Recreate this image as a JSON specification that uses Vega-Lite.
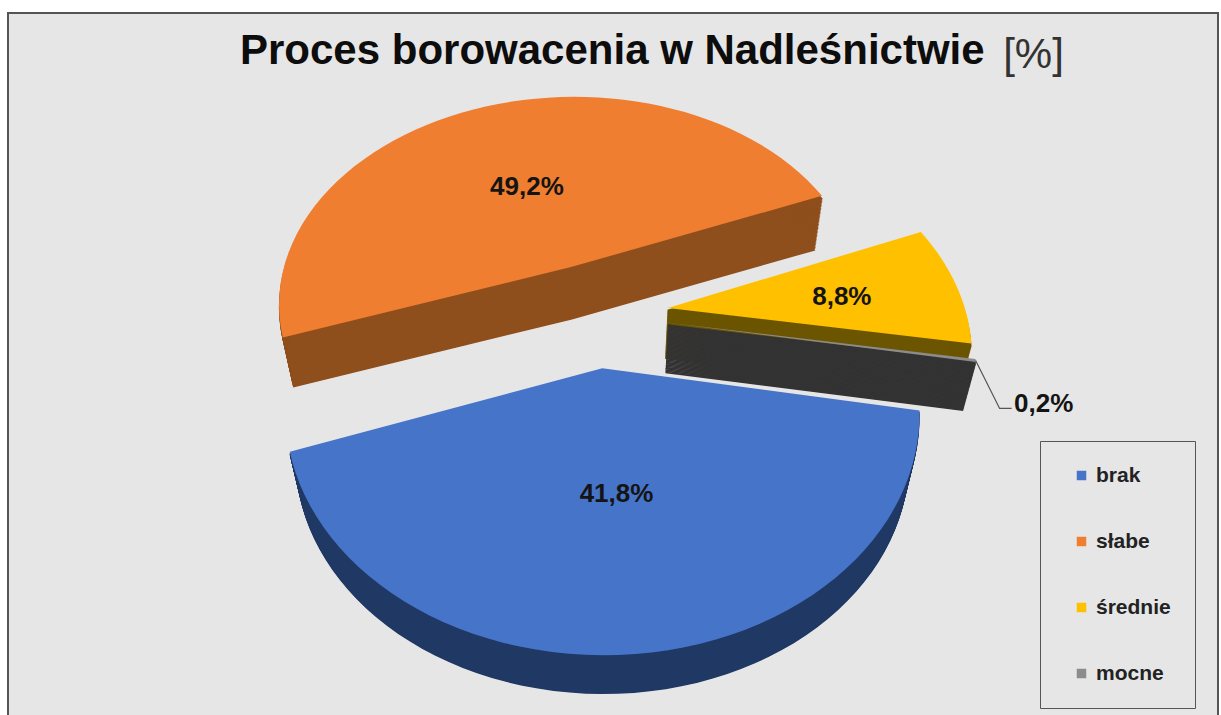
{
  "$schema": "https://vega.github.io/schema/vega-lite/v6.json",
  "autosize": {"type": "none"},
  "width": 1210,
  "height": 703,
  "padding": {"left": 8, "top": 13, "right": 3, "bottom": 0},
  "background": "#ffffff",
  "view": {"fill": "#e7e6e6", "stroke": "#555555", "strokeWidth": 2},
  "title": {
    "text": "Proces borowacenia w Nadleśnictwie",
    "anchor": "start",
    "frame": "group",
    "font": "Liberation Sans",
    "fontWeight": "bold",
    "fontSize": 42,
    "color": "#0d0d0d",
    "baseline": "alphabetic",
    "offset": 0,
    "dx": 232,
    "dy": 93
  },
  "data": {
    "values": [
      {"stopien": "brak", "udzial": 41.8},
      {"stopien": "słabe", "udzial": 49.2},
      {"stopien": "średnie", "udzial": 8.8},
      {"stopien": "mocne", "udzial": 0.2}
    ]
  },
  "transform": [
    {"window": [{"op": "sum", "field": "udzial", "as": "cum"}], "frame": [null, 0]},
    {"calculate": "(100 + (datum.cum - datum.udzial) * 3.6) * PI / 180", "as": "a0"},
    {"calculate": "(100 + datum.cum * 3.6) * PI / 180", "as": "a1"},
    {"calculate": "(datum.a0 + datum.a1) / 2", "as": "mid"},
    {"calculate": "0.243 * sin(datum.mid)", "as": "ex"},
    {"calculate": "0.243 * cos(datum.mid)", "as": "ey"},
    {"calculate": "replace(format(datum.udzial, '.1f'), '.', ',') + '%'", "as": "etykieta"}
  ],
  "encoding": {
    "x": {"field": "X", "type": "quantitative", "scale": {"domain": [8, 1218], "nice": false, "zero": false},
      "axis": {"orient": "top", "domain": false, "ticks": false, "labels": false, "grid": false, "title": "[%]",
        "titleFont": "Liberation Sans", "titleFontSize": 42, "titleFontWeight": "normal", "titleColor": "#333333",
        "titleX": 1025, "titleY": 54, "titleBaseline": "alphabetic", "titleAlign": "center", "titlePadding": 0}},
    "y": {"field": "Y", "type": "quantitative", "scale": {"domain": [716, 13], "nice": false, "zero": false}, "axis": null}
  },
  "layer": [
    {
      "transform": [
        {"calculate": "sequence(0, 63)", "as": "i"},
        {"flatten": ["i"]},
        {"calculate": "datum.i == 0 || datum.i == 62 ? 0 : 1", "as": "r"},
        {"calculate": "datum.a0 + (datum.a1 - datum.a0) * (datum.i - 1) / 60", "as": "th"},
        {"calculate": "datum.ex + datum.r * sin(datum.th)", "as": "px"},
        {"calculate": "datum.ey + datum.r * cos(datum.th)", "as": "py"},
        {"calculate": "596 + 298.5 * datum.px / (1 + 0.175 * datum.py)", "as": "Xt"},
        {"calculate": "314 - 215 * datum.py / (1 + 0.175 * datum.py)", "as": "Yt"},
        {"calculate": "sequence(2, 41)", "as": "k"},
        {"flatten": ["k"]},
        {"calculate": "datum.k / 40", "as": "z"},
        {"calculate": "596 + (datum.Xt - 596) * (1 - 0.035 * datum.z)", "as": "X"},
        {"calculate": "314 + (datum.Yt - 314) * (1 - 0.035 * datum.z) + 50 * datum.z", "as": "Y"}
      ],
      "mark": {"type": "line", "filled": true, "strokeWidth": 1.5, "interpolate": "linear"},
      "encoding": {
        "color": {"field": "stopien", "type": "nominal", "legend": null,
          "scale": {"domain": ["brak", "słabe", "średnie", "mocne"], "range": ["#203864", "#8f4f1d", "#6b5500", "#333333"]}},
        "stroke": {"field": "stopien", "type": "nominal", "legend": null,
          "scale": {"domain": ["brak", "słabe", "średnie", "mocne"], "range": ["#203864", "#8f4f1d", "#6b5500", "#333333"]}},
        "detail": {"field": "z", "type": "quantitative"},
        "order": {"field": "i", "type": "quantitative"}
      }
    },
    {
      "transform": [
        {"calculate": "sequence(0, 63)", "as": "i"},
        {"flatten": ["i"]},
        {"calculate": "datum.i == 0 || datum.i == 62 ? 0 : 1", "as": "r"},
        {"calculate": "datum.a0 + (datum.a1 - datum.a0) * (datum.i - 1) / 60", "as": "th"},
        {"calculate": "datum.ex + datum.r * sin(datum.th)", "as": "px"},
        {"calculate": "datum.ey + datum.r * cos(datum.th)", "as": "py"},
        {"calculate": "596 + 298.5 * datum.px / (1 + 0.175 * datum.py)", "as": "X"},
        {"calculate": "314 - 215 * datum.py / (1 + 0.175 * datum.py)", "as": "Y"}
      ],
      "mark": {"type": "line", "filled": true, "strokeWidth": 0.5, "interpolate": "linear"},
      "encoding": {
        "color": {"field": "stopien", "type": "nominal",
          "scale": {"domain": ["brak", "słabe", "średnie", "mocne"], "range": ["#4674c9", "#ef7e30", "#ffc000", "#8c8c8c"]},
          "legend": {
            "orient": "none", "legendX": 1032, "legendY": 428, "title": null,
            "symbolType": "square", "symbolSize": 90, "symbolOffset": 7,
            "labelFont": "Liberation Sans", "labelFontSize": 21, "labelFontWeight": "bold", "labelColor": "#222222",
            "labelExpr": "datum.label === 'średnie' ? datum.label + '\u00a0\u00a0\u00a0\u00a0' : datum.label",
            "labelOffset": 4, "rowPadding": 44, "padding": 24, "strokeColor": "#555555", "fillColor": "#e7e6e6"
          }},
        "order": {"field": "i", "type": "quantitative"}
      }
    },
    {
      "transform": [
        {"filter": "datum.udzial >= 1"},
        {"calculate": "datum.udzial < 10 ? 0.6 : 0.48", "as": "r"},
        {"calculate": "datum.ex + datum.r * sin(datum.mid)", "as": "px"},
        {"calculate": "datum.ey + datum.r * cos(datum.mid)", "as": "py"},
        {"calculate": "596 + 298.5 * datum.px / (1 + 0.175 * datum.py)", "as": "X"},
        {"calculate": "314 - 215 * datum.py / (1 + 0.175 * datum.py)", "as": "Y"}
      ],
      "mark": {"type": "text", "font": "Liberation Sans", "fontWeight": "bold", "fontSize": 26, "color": "#141414", "dy": 3},
      "encoding": {
        "text": {"field": "etykieta", "type": "nominal"}
      }
    },
    {
      "transform": [
        {"filter": "datum.udzial < 1"},
        {"calculate": "datum.ex + sin(datum.mid)", "as": "px"},
        {"calculate": "datum.ey + cos(datum.mid)", "as": "py"},
        {"calculate": "596 + 298.5 * datum.px / (1 + 0.175 * datum.py)", "as": "X"},
        {"calculate": "314 - 215 * datum.py / (1 + 0.175 * datum.py)", "as": "Y"}
      ],
      "mark": {"type": "text", "font": "Liberation Sans", "fontWeight": "bold", "fontSize": 26, "color": "#141414", "dx": 68, "dy": 44},
      "encoding": {
        "text": {"field": "etykieta", "type": "nominal"}
      }
    },
    {
      "transform": [
        {"filter": "datum.udzial < 1"},
        {"calculate": "datum.ex + sin(datum.mid)", "as": "px"},
        {"calculate": "datum.ey + cos(datum.mid)", "as": "py"},
        {"calculate": "596 + 298.5 * datum.px / (1 + 0.175 * datum.py)", "as": "Xt"},
        {"calculate": "314 - 215 * datum.py / (1 + 0.175 * datum.py)", "as": "Yt"},
        {"calculate": "[0, 1, 2]", "as": "n"},
        {"flatten": ["n"]},
        {"calculate": "datum.Xt + [0, 24, 36][datum.n]", "as": "X"},
        {"calculate": "datum.Yt + [0, 48, 48][datum.n]", "as": "Y"}
      ],
      "mark": {"type": "line", "color": "#555555", "strokeWidth": 1.2},
      "encoding": {
        "order": {"field": "n", "type": "quantitative"}
      }
    }
  ],
  "resolve": {"scale": {"color": "independent", "stroke": "independent"}}
}
